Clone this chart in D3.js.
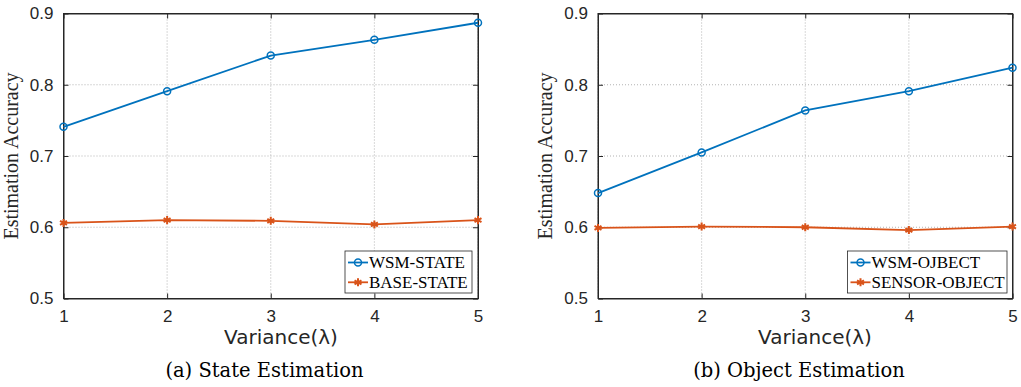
<!DOCTYPE html>
<html lang="en">
<head>
<meta charset="UTF-8">
<title>Estimation Accuracy</title>
<script src="https://cdn.jsdelivr.net/npm/d3@7"></script>
<style>
  body { margin: 0; background: #fff; }
  .tick text { font-family: "Liberation Sans", Arial, sans-serif; font-size: 17px; fill: #262626; }
</style>
</head>
<body>
<script>
    // data
    var variance = [1, 2, 3, 4, 5]
    var yTicks = [0.5, 0.6, 0.7, 0.8, 0.9]
    var wsmState = [0.741, 0.791, 0.841, 0.863, 0.887]
    var baseState = [0.606, 0.610, 0.609, 0.604, 0.610]
    var wsmObject = [0.648, 0.705, 0.764, 0.791, 0.824]
    var sensorObject = [0.599, 0.601, 0.600, 0.596, 0.601]

    var blue = '#0072BD'
    var orange = '#D95319'
    var axisColor = '#262626'

    var width = 1021
    var height = 387

    var svg = d3.select('body')
        .append('svg')
        .attr('width', width)
        .attr('height', height)

    var panels = [
        {left: 63.5, right: 478, caption: '(a) State Estimation', captionX: 264.5, labelX: 281,
         series: [{name: 'WSM-STATE', values: wsmState, color: blue, marker: 'o'},
                  {name: 'BASE-STATE', values: baseState, color: orange, marker: '*'}],
         legend: {x: 345, w: 127}},
        {left: 598, right: 1012.5, caption: '(b) Object Estimation', captionX: 799, labelX: 815,
         series: [{name: 'WSM-OJBECT', values: wsmObject, color: blue, marker: 'o'},
                  {name: 'SENSOR-OBJECT', values: sensorObject, color: orange, marker: '*'}],
         legend: {x: 847.5, w: 159.5}}
    ]

    var plotTop = 13.5, plotBottom = 298.5

    var yScale = d3.scaleLinear().domain([0.5, 0.9]).range([plotBottom, plotTop])

    panels.forEach(function (p) {
        var xScale = d3.scaleLinear().domain([1, 5]).range([p.left, p.right])
        var g = svg.append('g')

        // grid
        g.selectAll('.vgrid').data(variance).enter().append('line')
            .attr('x1', d => xScale(d)).attr('x2', d => xScale(d))
            .attr('y1', plotTop).attr('y2', plotBottom)
            .attr('stroke', '#a0a0a0').attr('stroke-width', 0.8).attr('stroke-dasharray', '1,2')
        g.selectAll('.hgrid').data(yTicks).enter().append('line')
            .attr('y1', d => yScale(d)).attr('y2', d => yScale(d))
            .attr('x1', p.left).attr('x2', p.right)
            .attr('stroke', '#a0a0a0').attr('stroke-width', 0.8).attr('stroke-dasharray', '1,2')

        // axes (ticks inward, mirrored on top/right)
        g.append('g').attr('transform', `translate(0, ${plotBottom})`)
            .call(d3.axisBottom(xScale).tickValues(variance).tickSizeInner(-5).tickSizeOuter(0).tickPadding(11).tickFormat(d3.format('d')))
        g.append('g').attr('transform', `translate(${p.left}, 0)`)
            .call(d3.axisLeft(yScale).tickValues(yTicks).tickSizeInner(-5).tickSizeOuter(0).tickPadding(10).tickFormat(d3.format('.1f')))
        g.append('g').attr('transform', `translate(0, ${plotTop})`)
            .call(d3.axisTop(xScale).tickValues(variance).tickSizeInner(-5).tickSizeOuter(0).tickFormat(''))
        g.append('g').attr('transform', `translate(${p.right}, 0)`)
            .call(d3.axisRight(yScale).tickValues(yTicks).tickSizeInner(-5).tickSizeOuter(0).tickFormat(''))
        g.selectAll('.domain, .tick line').attr('stroke', axisColor)
        g.append('rect')
            .attr('x', p.left).attr('y', plotTop)
            .attr('width', p.right - p.left).attr('height', plotBottom - plotTop)
            .attr('fill', 'none').attr('stroke', axisColor).attr('stroke-width', 1)

        // lines and markers
        var line = d3.line().x((d, i) => xScale(variance[i])).y(d => yScale(d))
        p.series.forEach(function (s) {
            g.append('path').datum(s.values)
                .attr('d', line).attr('fill', 'none')
                .attr('stroke', s.color).attr('stroke-width', 1.8)
            drawMarkers(g, s, s.values.map((v, i) => [xScale(variance[i]), yScale(v)]))
        })

        // legend
        var lg = g.append('g')
        lg.append('rect')
            .attr('x', p.legend.x).attr('y', 251)
            .attr('width', p.legend.w).attr('height', 42)
            .attr('fill', '#fff').attr('stroke', axisColor).attr('stroke-width', 0.8)
        p.series.forEach(function (s, i) {
            var cy = 262.5 + i * 19.8
            lg.append('line')
                .attr('x1', p.legend.x + 3).attr('x2', p.legend.x + 23)
                .attr('y1', cy).attr('y2', cy)
                .attr('stroke', s.color).attr('stroke-width', 1.8)
            drawMarkers(lg, s, [[p.legend.x + 13, cy]])
            lg.append('text')
                .attr('x', p.legend.x + 24).attr('y', cy + 5.5)
                .attr('font-family', '"Liberation Serif", "Times New Roman", serif')
                .attr('font-size', 17).attr('fill', '#000')
                .text(s.name)
        })

        // labels
        g.append('text')
            .attr('transform', `translate(${p.left - 46}, ${(plotTop + plotBottom) / 2}) rotate(-90)`)
            .attr('text-anchor', 'middle')
            .attr('font-family', '"Liberation Serif", "Times New Roman", serif')
            .attr('font-size', 20).attr('fill', '#262626')
            .text('Estimation Accuracy')
        g.append('text')
            .attr('x', p.labelX).attr('y', 344)
            .attr('text-anchor', 'middle')
            .attr('font-family', '"DejaVu Sans", sans-serif')
            .attr('font-size', 20).attr('fill', '#262626')
            .text('Variance(λ)')
        g.append('text')
            .attr('x', p.captionX).attr('y', 377)
            .attr('text-anchor', 'middle')
            .attr('font-family', '"DejaVu Serif", serif')
            .attr('font-size', 19.5).attr('fill', '#000')
            .text(p.caption)
    })

    function drawMarkers(g, s, pts) {
        if (s.marker === 'o') {
            g.selectAll(null).data(pts).enter().append('circle')
                .attr('cx', d => d[0]).attr('cy', d => d[1]).attr('r', 3.5)
                .attr('fill', 'none').attr('stroke', s.color).attr('stroke-width', 1.5)
        } else {
            var star = d3.symbol().type(d3.symbolAsterisk).size(45)
            g.selectAll(null).data(pts).enter().append('path')
                .attr('transform', d => `translate(${d[0]}, ${d[1]})`)
                .attr('d', star).attr('fill', 'none')
                .attr('stroke', s.color).attr('stroke-width', 2)
        }
    }
</script>
</body>
</html>
